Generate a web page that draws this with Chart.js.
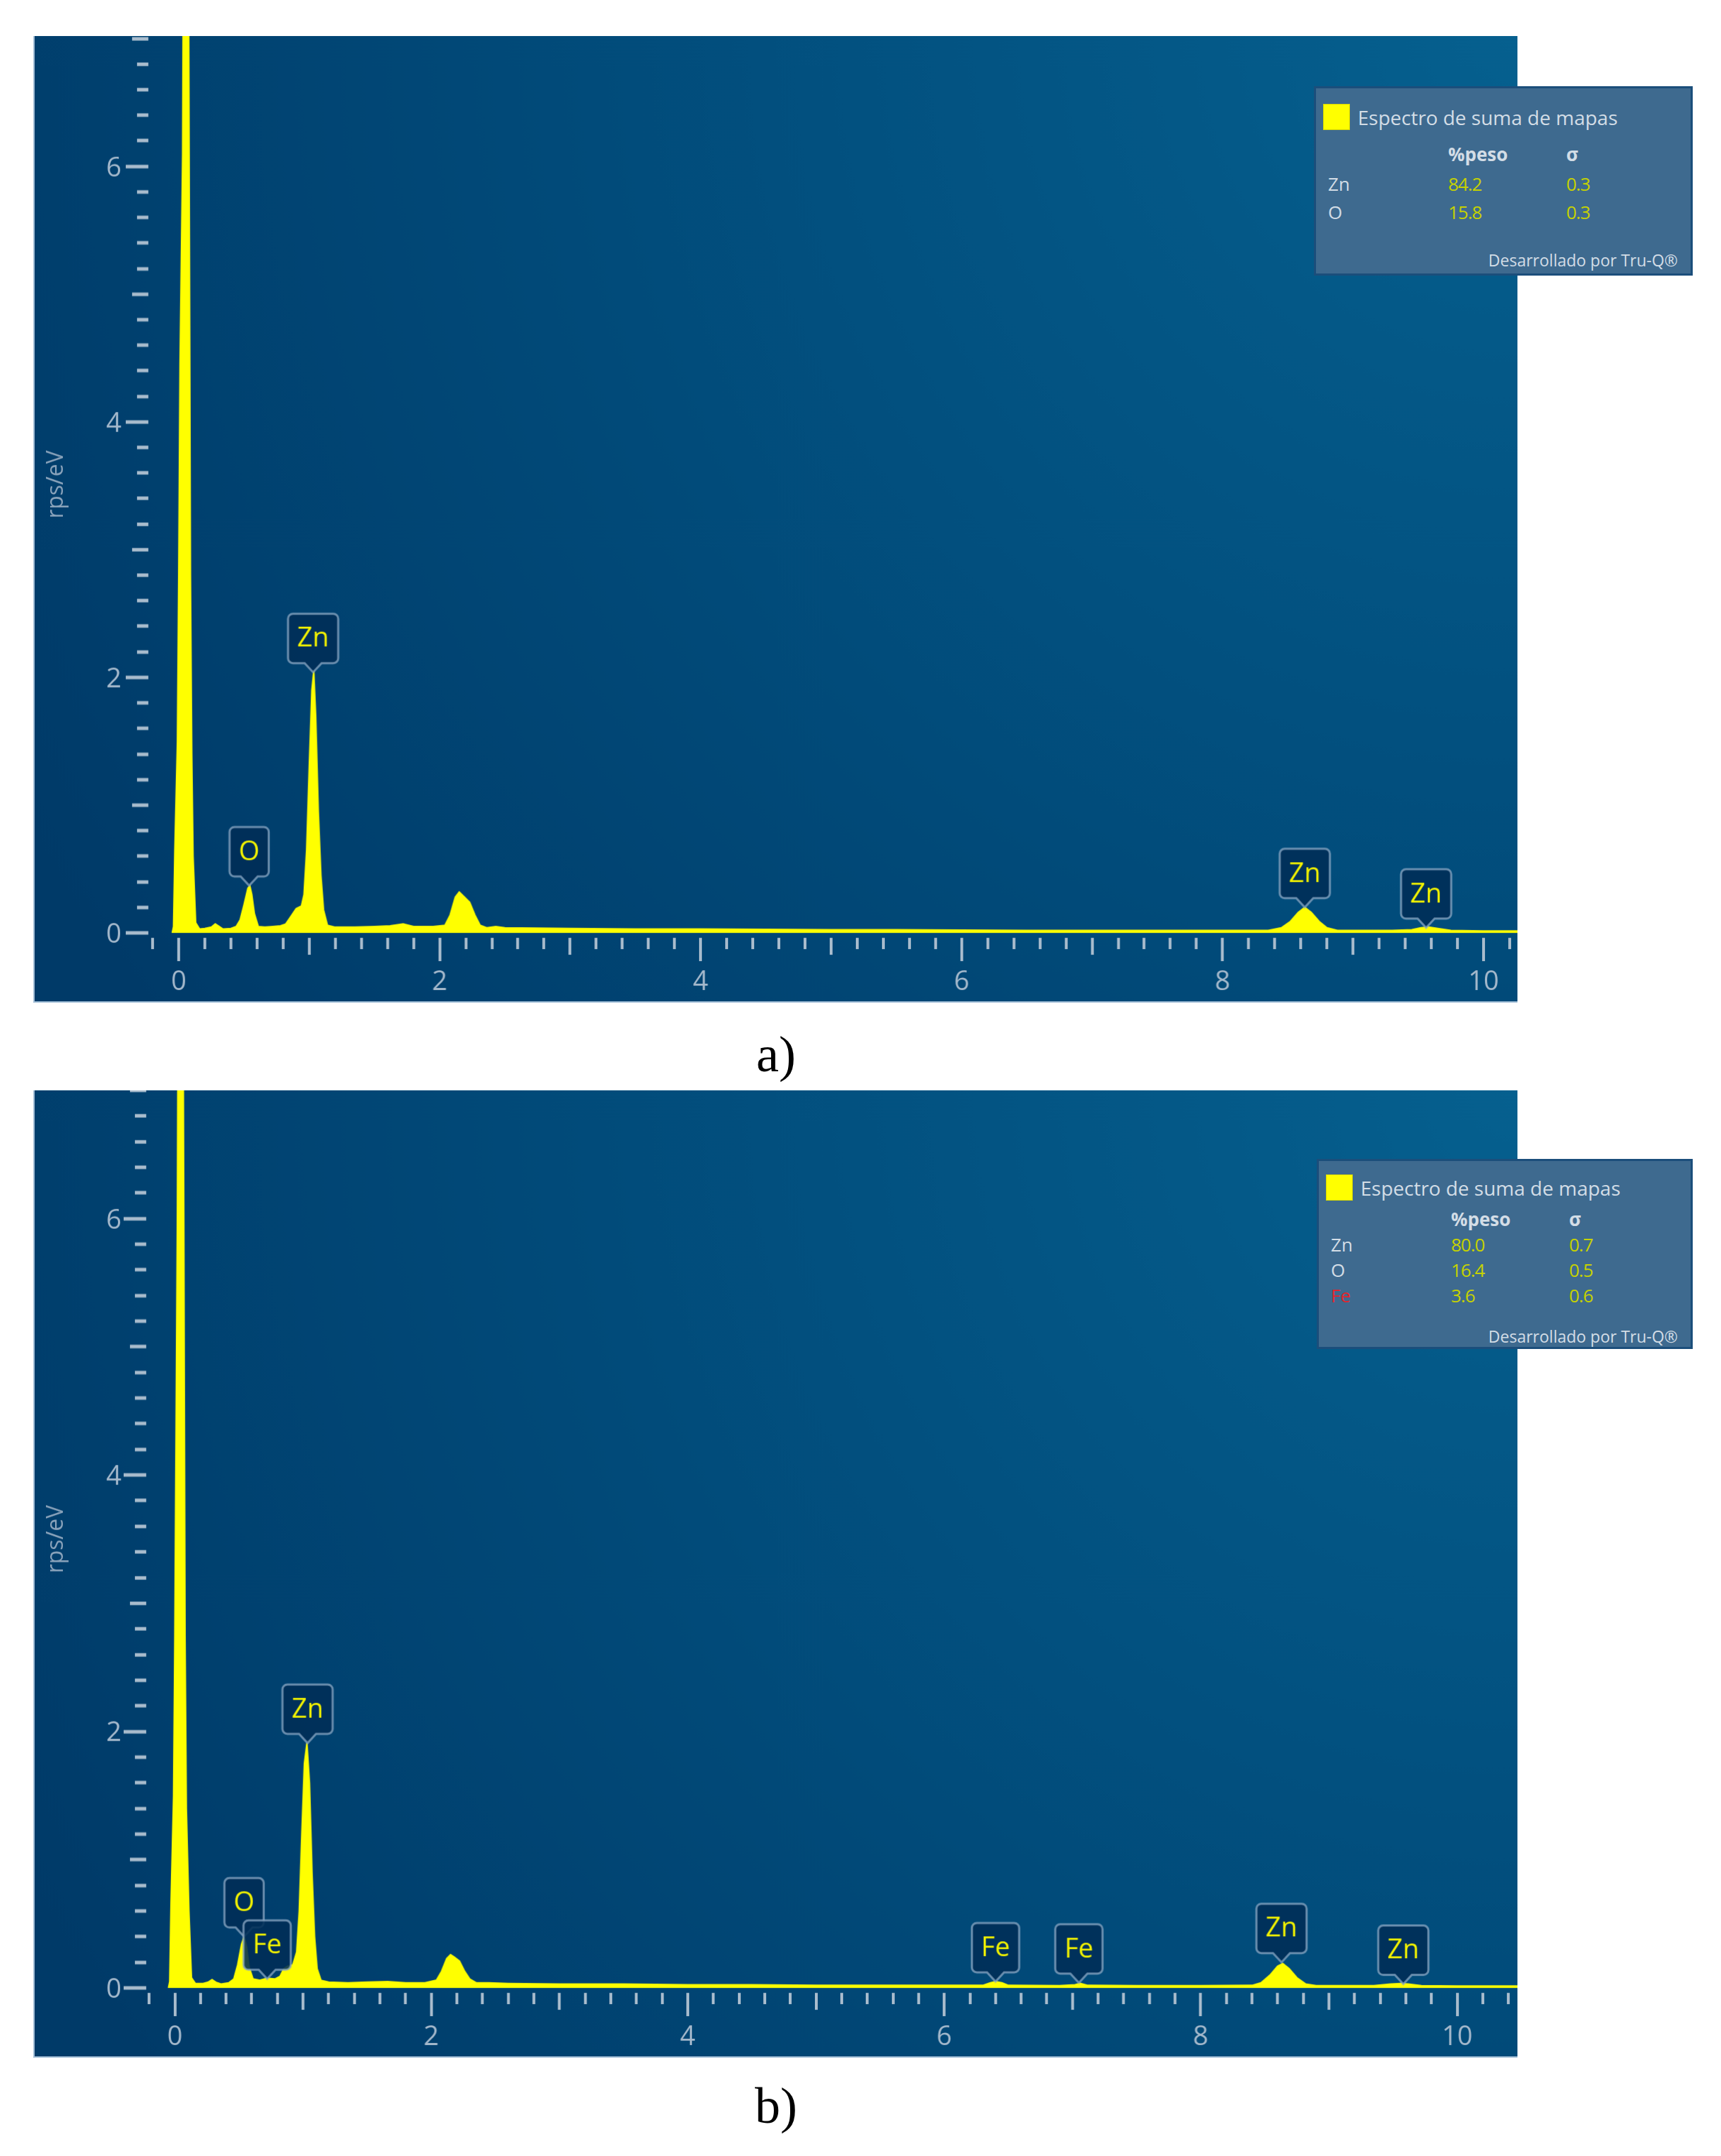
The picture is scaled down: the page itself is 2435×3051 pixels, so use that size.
<!DOCTYPE html>
<html>
<head>
<meta charset="utf-8">
<script src="https://cdn.jsdelivr.net/npm/chart.js@4.4.1/dist/chart.umd.min.js"></script>
<style>
  body { margin: 0; background: #fff; width: 2435px; height: 3051px; position: relative; overflow: hidden; }
  .panel { position: absolute; left: 47px; border-left: 2px solid #a9c3da; border-bottom: 2px solid #a9c3da; box-sizing: content-box; }
  #panelA { top: 51px; }
  #panelB { top: 1543px; }
  .legend { position: absolute; background: #3e6a8f; border: 3px solid #1b4e7b; box-sizing: border-box;
            font-family: "Open Sans", sans-serif; color: #d3dde6; }
  .legend div { position: absolute; white-space: nowrap; line-height: 36px; height: 36px; }
  .legend .swatch { background: #ffff00; border: 1px solid #d9d900; }
  .legend .num { color: #c6d200; }
  .legend .head { font-weight: 700; }
  .caption { position: absolute; width: 200px; text-align: center; font-family: "Liberation Serif", serif;
             font-size: 72px; color: #000; line-height: 80px; }
</style>
</head>
<body>
<canvas id="panelA" class="panel" width="2100" height="1368"></canvas>
<canvas id="panelB" class="panel" width="2100" height="1369"></canvas>
<div id="legendA" class="legend" style="left:1859px;top:122px;width:536px;height:268px"></div>
<div id="legendB" class="legend" style="left:1863px;top:1640px;width:532px;height:269px"></div>
<div class="caption" style="left:998px;top:1452px">a)</div>
<div class="caption" style="left:998px;top:2940px">b)</div>

<script>
/* ================= DATA : SPECTRUM a) ================= */
const energiesA = [
  -0.05, -0.04, -0.03, -0.01, 0.00, 0.01, 0.03, 0.04, 0.07, 0.08, 0.09, 0.10, 0.11, 0.13, 0.16,
  0.20, 0.25, 0.28, 0.31, 0.34, 0.40, 0.44, 0.47, 0.50, 0.53, 0.545, 0.56, 0.58, 0.61, 0.66,
  0.72, 0.78, 0.82, 0.86, 0.90, 0.94, 0.96, 0.98, 1.00, 1.02, 1.035, 1.05, 1.07, 1.09, 1.11,
  1.14, 1.20, 1.35, 1.50, 1.62, 1.72, 1.80, 1.95, 2.04, 2.08, 2.12, 2.15, 2.19, 2.23, 2.27,
  2.31, 2.36, 2.43, 2.50, 3.00, 3.50, 4.00, 4.50, 5.00, 5.50, 6.00, 6.50, 7.00, 7.50, 8.00,
  8.35, 8.45, 8.52, 8.58, 8.63, 8.68, 8.74, 8.80, 8.88, 9.30, 9.45, 9.52, 9.58, 9.65, 9.75,
  10.00, 10.30
];
const countsA = [
  0.00, 0.05, 0.64, 1.50, 2.80, 4.45, 6.10, 9.00, 9.00, 6.10, 2.80, 1.40, 0.60, 0.08, 0.03,
  0.035, 0.045, 0.07, 0.05, 0.03, 0.035, 0.05, 0.10, 0.22, 0.35, 0.37, 0.30, 0.15, 0.05, 0.045,
  0.05, 0.055, 0.07, 0.13, 0.19, 0.21, 0.30, 0.65, 1.30, 1.90, 2.05, 1.70, 0.95, 0.45, 0.18,
  0.06, 0.045, 0.045, 0.05, 0.055, 0.07, 0.05, 0.05, 0.06, 0.14, 0.28, 0.32, 0.28, 0.24, 0.14,
  0.06, 0.04, 0.05, 0.04, 0.035, 0.03, 0.03, 0.028, 0.025, 0.025, 0.022, 0.02, 0.02, 0.02, 0.02,
  0.02, 0.04, 0.09, 0.16, 0.20, 0.16, 0.09, 0.04, 0.02, 0.02, 0.025, 0.04, 0.045, 0.035, 0.02,
  0.015, 0.015
];

/* ================= DATA : SPECTRUM b) ================= */
const energiesB = [
  -0.05, -0.04, -0.03, -0.01, 0.00, 0.01, 0.02, 0.03, 0.06, 0.07, 0.08, 0.09, 0.11, 0.13, 0.16,
  0.22, 0.26, 0.29, 0.32, 0.36, 0.42, 0.46, 0.49, 0.52, 0.54, 0.56, 0.58, 0.61, 0.66, 0.72,
  0.78, 0.82, 0.85, 0.88, 0.92, 0.95, 0.97, 0.99, 1.01, 1.03, 1.05, 1.07, 1.09, 1.11, 1.14,
  1.20, 1.35, 1.50, 1.66, 1.80, 1.95, 2.04, 2.08, 2.12, 2.15, 2.18, 2.22, 2.26, 2.30, 2.35,
  2.45, 2.60, 3.00, 3.50, 4.00, 4.50, 5.00, 5.50, 6.00, 6.30, 6.36, 6.40, 6.45, 6.50, 6.90,
  7.02, 7.06, 7.12, 7.50, 8.00, 8.40, 8.47, 8.54, 8.60, 8.64, 8.69, 8.75, 8.82, 8.90, 9.35,
  9.48, 9.56, 9.62, 9.72, 10.00, 10.50
];
const countsB = [
  0.00, 0.05, 0.66, 1.50, 2.75, 4.40, 6.05, 9.00, 9.00, 6.05, 2.75, 1.40, 0.60, 0.08, 0.035,
  0.035, 0.045, 0.065, 0.045, 0.03, 0.04, 0.07, 0.18, 0.34, 0.40, 0.32, 0.16, 0.07, 0.06, 0.075,
  0.07, 0.09, 0.15, 0.17, 0.18, 0.28, 0.60, 1.20, 1.75, 1.91, 1.60, 0.90, 0.40, 0.15, 0.06,
  0.045, 0.04, 0.045, 0.05, 0.04, 0.04, 0.06, 0.13, 0.23, 0.26, 0.24, 0.21, 0.13, 0.07, 0.04,
  0.04, 0.035, 0.03, 0.03, 0.025, 0.025, 0.02, 0.02, 0.02, 0.02, 0.04, 0.05, 0.04, 0.02, 0.018,
  0.025, 0.035, 0.02, 0.018, 0.018, 0.02, 0.04, 0.10, 0.17, 0.19, 0.15, 0.08, 0.03, 0.018, 0.018,
  0.03, 0.035, 0.03, 0.018, 0.015, 0.015
];

/* ================= DATA : PEAK MARKERS ================= */
const markerLabelsA = ["O", "Zn", "Zn", "Zn"];
const markerEnergyA = [0.54, 1.03, 8.63, 9.56];
const markerHeightA = [0.37, 2.04, 0.20, 0.04];

const markerLabelsB = ["O", "Fe", "Zn", "Fe", "Fe", "Zn", "Zn"];
const markerEnergyB = [0.54, 0.72, 1.035, 6.40, 7.05, 8.63, 9.58];
const markerHeightB = [0.40, 0.07, 1.91, 0.05, 0.04, 0.20, 0.03];

/* ================= DATA : AXES ================= */
const xTickValues = [0, 2, 4, 6, 8, 10];
const yTickValues = [0, 2, 4, 6];
const yAxisTitle = "rps/eV";

/* ================= DATA : QUANTIFICATION TABLES ================= */
const seriesName = "Espectro de suma de mapas";
const footerText = "Desarrollado por Tru-Q®";
const columnHeads = ["%peso", "σ"];

const elementsA = ["Zn", "O"];
const weightsA = ["84.2", "15.8"];
const sigmasA = ["0.3", "0.3"];

const elementsB = ["Zn", "O", "Fe"];
const weightsB = ["80.0", "16.4", "3.6"];
const sigmasB = ["0.7", "0.5", "0.6"];

/* ================= STYLE ================= */
const YELLOW = "#ffff00";
const AXIS_TEXT = "#a5b9cc";
const TICK_COLOR = "#a9bccd";
const elementColor = { Fe: "#e3252d" };

/* ================= PLUGINS ================= */
const backgroundPlugin = {
  id: "edsBackground",
  beforeDraw(chart) {
    const { ctx, width, height } = chart;
    const g = ctx.createRadialGradient(width, 0, 0, width, 0, width * 1.15);
    g.addColorStop(0, "#06608f");
    g.addColorStop(0.45, "#024f7e");
    g.addColorStop(1, "#003a68");
    ctx.save();
    ctx.fillStyle = g;
    ctx.fillRect(0, 0, width, height);
    ctx.restore();
  }
};

// minor / medium / major ticks every 0.2, placed by the chart's own scales
const ticksPlugin = {
  id: "edsTicks",
  afterDraw(chart) {
    const { ctx, chartArea, scales: { x, y } } = chart;
    ctx.save();
    ctx.strokeStyle = TICK_COLOR;

    ctx.lineWidth = 4;
    for (let k = Math.ceil(x.min * 5); k <= Math.floor(x.max * 5); k++) {
      const px = Math.round(x.getPixelForValue(k / 5));
      const len = k % 10 === 0 ? 33 : (k % 5 === 0 ? 24 : 16);
      ctx.beginPath();
      ctx.moveTo(px, chartArea.bottom + 7);
      ctx.lineTo(px, chartArea.bottom + 7 + len);
      ctx.stroke();
    }

    ctx.lineWidth = 5;
    for (let k = Math.ceil(y.min * 5); k <= Math.floor(y.max * 5); k++) {
      const py = Math.round(y.getPixelForValue(k / 5));
      const len = k % 10 === 0 ? 32 : (k % 5 === 0 ? 23 : 16);
      ctx.beginPath();
      ctx.moveTo(chartArea.left - 2, py);
      ctx.lineTo(chartArea.left - 2 - len, py);
      ctx.stroke();
    }
    ctx.restore();
  }
};

const markersPlugin = {
  id: "edsMarkers",
  afterDatasetsDraw(chart, args, opts) {
    const { ctx, scales: { x, y } } = chart;
    ctx.save();
    ctx.font = '38px "Open Sans", sans-serif';
    ctx.textAlign = "center";
    ctx.textBaseline = "middle";
    opts.labels.forEach((label, i) => {
      const px = x.getPixelForValue(opts.energy[i]);
      const py = y.getPixelForValue(opts.height[i]);
      const w = ctx.measureText(label).width + 26;
      const h = 70, tail = 13, r = 7;
      const x0 = px - w / 2, x1 = px + w / 2;
      const y1 = py - tail, y0 = y1 - h;

      ctx.beginPath();
      ctx.moveTo(x0 + r, y0);
      ctx.lineTo(x1 - r, y0);
      ctx.arcTo(x1, y0, x1, y0 + r, r);
      ctx.lineTo(x1, y1 - r);
      ctx.arcTo(x1, y1, x1 - r, y1, r);
      ctx.lineTo(px + 12, y1);
      ctx.lineTo(px, py);
      ctx.lineTo(px - 12, y1);
      ctx.lineTo(x0 + r, y1);
      ctx.arcTo(x0, y1, x0, y1 - r, r);
      ctx.lineTo(x0, y0 + r);
      ctx.arcTo(x0, y0, x0 + r, y0, r);
      ctx.closePath();
      ctx.fillStyle = "rgba(0, 46, 86, 0.88)";
      ctx.fill();
      ctx.lineWidth = 3;
      ctx.strokeStyle = "rgba(140, 170, 198, 0.75)";
      ctx.stroke();

      ctx.fillStyle = "#f2f200";
      ctx.fillText(label, px, y0 + h / 2 + 1);
    });
    ctx.restore();
  }
};

/* ================= CHART ================= */
const makeSpectrum = (canvasId, energies, counts, markers, range) => {
  const points = energies.map((e, i) => ({ x: e, y: counts[i] }));

  return new Chart(document.getElementById(canvasId), {
    type: "line",
    data: {
      datasets: [{
        label: seriesName,
        data: points,
        borderColor: YELLOW,
        backgroundColor: YELLOW,
        borderWidth: 2,
        fill: "origin",
        tension: 0,
        pointRadius: 0
      }]
    },
    options: {
      responsive: false,
      animation: false,
      events: [],
      layout: { padding: 0 },
      plugins: {
        legend: { display: false },
        tooltip: { enabled: false },
        edsMarkers: markers
      },
      scales: {
        x: {
          type: "linear",
          min: range.xMin,
          max: range.xMax,
          border: { display: false },
          grid: { display: false, drawTicks: false },
          afterBuildTicks: s => { s.ticks = xTickValues.map(v => ({ value: v })); },
          ticks: {
            color: AXIS_TEXT,
            padding: 47,
            autoSkip: false,
            maxRotation: 0,
            font: { family: "Open Sans", size: 38 }
          },
          afterFit: s => {
            s.height = 97;
            s.paddingLeft = 0;
            s.paddingRight = 0;
          }
        },
        y: {
          type: "linear",
          min: 0,
          max: range.yMax,
          border: { display: false },
          grid: { display: false, drawTicks: false },
          afterBuildTicks: s => { s.ticks = yTickValues.map(v => ({ value: v })); },
          ticks: {
            color: AXIS_TEXT,
            padding: range.labelPad,
            labelOffset: 3,
            font: { family: "Open Sans", size: 38 }
          },
          title: {
            display: true,
            text: yAxisTitle,
            color: "#8aa3bb",
            padding: { top: 12, bottom: 0 },
            font: { family: "Open Sans", size: 32 }
          },
          afterFit: s => {
            s.width = range.yWidth;
            s.paddingTop = 0;
            s.paddingBottom = 0;
          }
        }
      }
    },
    plugins: [backgroundPlugin, ticksPlugin, markersPlugin]
  });
};

makeSpectrum("panelA", energiesA, countsA,
  { labels: markerLabelsA, energy: markerEnergyA, height: markerHeightA },
  { xMin: -0.222, xMax: 10.26, yMax: 7.02, yWidth: 163, labelPad: 40 });

makeSpectrum("panelB", energiesB, countsB,
  { labels: markerLabelsB, energy: markerEnergyB, height: markerHeightB },
  { xMin: -0.212, xMax: 10.47, yMax: 7.0, yWidth: 160, labelPad: 37 });

/* ================= LEGEND TABLES ================= */
const buildLegend = (id, names, weights, sigmas, rows) => {
  const box = document.getElementById(id);
  const add = (text, left, centerY, cls, extra) => {
    const d = document.createElement("div");
    d.textContent = text;
    d.style.left = left + "px";
    d.style.top = (centerY - 18) + "px";
    if (cls) d.className = cls;
    Object.assign(d.style, extra || {});
    box.appendChild(d);
    return d;
  };

  const sw = document.createElement("div");
  sw.className = "swatch";
  Object.assign(sw.style, { left: "10px", top: (rows.title - 19) + "px", width: "36px", height: "35px" });
  box.appendChild(sw);

  add(seriesName, 59, rows.title, null, { fontSize: "28px" });
  add(columnHeads[0], 187, rows.head, "head", { fontSize: "26px" });
  add(columnHeads[1], 354, rows.head, "head", { fontSize: "26px" });

  names.forEach((n, i) => {
    const cy = rows.first + i * rows.step;
    add(n, 17, cy, null, { fontSize: "26px", color: elementColor[n] || "#d3dde6" });
    add(weights[i], 187, cy, "num", { fontSize: "26px", letterSpacing: "-1px" });
    add(sigmas[i], 354, cy, "num", { fontSize: "26px", letterSpacing: "-1px" });
  });

  add(footerText, 0, rows.foot, null, { fontSize: "23px", left: "auto", right: "18px" });
};

buildLegend("legendA", elementsA, weightsA, sigmasA,
  { title: 41, head: 93, first: 135, step: 40, foot: 243 });
buildLegend("legendB", elementsB, weightsB, sigmasB,
  { title: 38, head: 82, first: 118, step: 36, foot: 248 });
</script>
</body>
</html>
